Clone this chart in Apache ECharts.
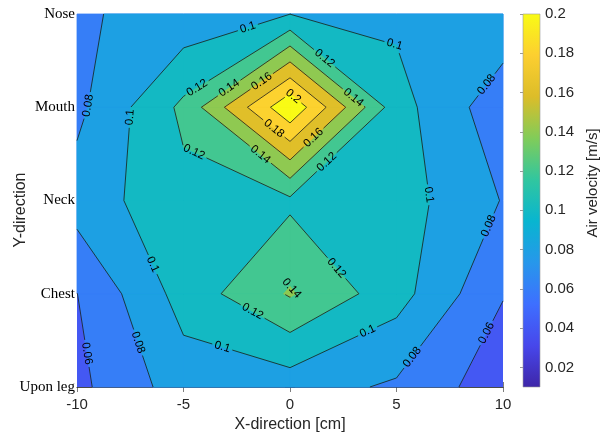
<!DOCTYPE html>
<html><head><meta charset="utf-8">
<script src="https://cdn.jsdelivr.net/npm/echarts@6/dist/echarts.min.js"></script>
<style>html,body{margin:0;padding:0;background:#fff}#c{width:612px;height:437px}</style>
</head><body><div id="c"></div>
<script>
// ---------------- data ----------------
const xValues = [-10, -5, 0, 5, 10];                       // X-direction [cm]
const yCategories = ['Upon leg', 'Chest', 'Neck', 'Mouth', 'Nose']; // y index 0..4
// air velocity [m/s] per row, columns follow xValues
const velUponLeg = [0.055, 0.090, 0.089, 0.077, 0.048];
const velChest   = [0.0598, 0.108, 0.142, 0.108, 0.061];
const velNeck    = [0.089, 0.114, 0.116, 0.1095, 0.079];
const velMouth   = [0.075, 0.1245, 0.217, 0.108, 0.067];
const velNose    = [0.078, 0.086, 0.0998, 0.096, 0.0945];
const velocityRows = [velUponLeg, velChest, velNeck, velMouth, velNose];
const contourLevels = [0.02, 0.04, 0.06, 0.08, 0.10, 0.12, 0.14, 0.16, 0.18, 0.20];
const colorbarTicks = [0.02, 0.04, 0.06, 0.08, 0.10, 0.12, 0.14, 0.16, 0.18, 0.20];
const colorMin = 0.01, colorMax = 0.2;
// contour label hints: [level, x, y] (snapped onto the computed contour)
const labelLevels = [0.08, 0.10, 0.10, 0.12, 0.14, 0.16, 0.20, 0.18, 0.16, 0.14, 0.12, 0.14, 0.12, 0.12,
                     0.10, 0.08, 0.10, 0.08, 0.06, 0.08, 0.10, 0.10, 0.12, 0.12, 0.14, 0.10, 0.08, 0.06];
const labelHintX = [-9.53, -7.42, -1.97, -4.37, -2.9, -1.4, 0.09, -0.8, 1.08, 2.96, 1.64, -1.4, -4.46, 1.74,
                    4.93, 9.25, 6.48, 9.39, 9.39, 5.63, 3.62, -3.15, 2.21, -1.78, 0.09, -6.48, -7.09, -9.53];
const labelHintY = [3.02, 2.89, 3.85, 3.21, 3.22, 3.3, 3.1, 2.76, 2.68, 3.1, 3.53, 2.49, 2.54, 2.41,
                    3.69, 3.24, 2.06, 1.72, 0.56, 0.34, 0.61, 0.45, 1.28, 0.8, 1.06, 1.31, 0.48, 0.36];
// parula colormap anchors
const parulaAnchors = [
  [0.2422, 0.1504, 0.6603], [0.2803, 0.2782, 0.9221], [0.2440, 0.4358, 0.9988],
  [0.1540, 0.5902, 0.9218], [0.0297, 0.7082, 0.8163], [0.1938, 0.7758, 0.6251],
  [0.5044, 0.7993, 0.3480], [0.8634, 0.7406, 0.1596], [0.9892, 0.8136, 0.1885],
  [0.9769, 0.9839, 0.0805]
];

// ---------------- helpers ----------------
const FONT = 'Liberation Sans, Arial, Helvetica, sans-serif';
function rgbStr(c) { return 'rgb(' + c.map(v => Math.round(v * 255)).join(',') + ')'; }
function parula(t) {
  t = Math.max(0, Math.min(1, t));
  const n = parulaAnchors.length - 1;
  const f = t * n; const i = Math.min(Math.floor(f), n - 1); const u = f - i;
  const a = parulaAnchors[i], b = parulaAnchors[i + 1];
  return rgbStr([0, 1, 2].map(k => a[k] * (1 - u) + b[k] * u));
}
function levelColor(L) { return parula((L - colorMin) / (colorMax - colorMin)); }

const nx = xValues.length, ny = velocityRows.length;
let globalMin = Infinity;
velocityRows.forEach(r => r.forEach(v => { globalMin = Math.min(globalMin, v); }));
let baseLevel = colorMin;
contourLevels.forEach(L => { if (L <= globalMin) baseLevel = L; });

function cross(a, b, L) {
  let p = a, q = b;
  if (a.x > b.x || (a.x === b.x && a.y > b.y)) { p = b; q = a; }
  const t = (L - p.v) / (q.v - p.v);
  return [p.x + t * (q.x - p.x), p.y + t * (q.y - p.y)];
}
const fillPolys = {}; const lineSegs = {};
contourLevels.forEach(L => {
  fillPolys[L] = []; lineSegs[L] = [];
  for (let j = 0; j < ny - 1; j++) {
    for (let i = 0; i < nx - 1; i++) {
      const c = [
        { x: xValues[i], y: j, v: velocityRows[j][i] },
        { x: xValues[i + 1], y: j, v: velocityRows[j][i + 1] },
        { x: xValues[i + 1], y: j + 1, v: velocityRows[j + 1][i + 1] },
        { x: xValues[i], y: j + 1, v: velocityRows[j + 1][i] }
      ];
      const poly = []; const crs = [];
      for (let k = 0; k < 4; k++) {
        const a = c[k], b = c[(k + 1) % 4];
        if (a.v >= L) poly.push([a.x, a.y]);
        if ((a.v >= L) !== (b.v >= L)) { const p = cross(a, b, L); poly.push(p); crs.push(p); }
      }
      if (poly.length >= 3) fillPolys[L].push(poly);
      if (crs.length === 2) lineSegs[L].push([crs[0], crs[1]]);
      else if (crs.length === 4) { lineSegs[L].push([crs[0], crs[1]]); lineSegs[L].push([crs[2], crs[3]]); }
    }
  }
});
function keyOf(p) { return p[0].toFixed(6) + ',' + p[1].toFixed(6); }
function chain(segs) {
  const adj = new Map();
  segs.forEach((s, idx) => s.forEach(p => { const k = keyOf(p); if (!adj.has(k)) adj.set(k, []); adj.get(k).push(idx); }));
  const used = new Array(segs.length).fill(false); const lines = [];
  for (let s = 0; s < segs.length; s++) {
    if (used[s]) continue; used[s] = true;
    const line = [segs[s][0], segs[s][1]];
    for (let dir = 0; dir < 2; dir++) {
      while (true) {
        const end = dir === 0 ? line[line.length - 1] : line[0];
        const cand = (adj.get(keyOf(end)) || []).filter(ix => !used[ix]);
        if (!cand.length) break;
        const ix = cand[0]; used[ix] = true;
        const other = keyOf(segs[ix][0]) === keyOf(end) ? segs[ix][1] : segs[ix][0];
        if (dir === 0) line.push(other); else line.unshift(other);
      }
    }
    const closed = keyOf(line[0]) === keyOf(line[line.length - 1]);
    lines.push({ pts: line, closed: closed, level: null });
  }
  return lines;
}
const contourLines = [];
contourLevels.forEach(L => chain(lineSegs[L]).forEach(l => { l.level = L; contourLines.push(l); }));

function fmtLevel(L) { return String(+L.toFixed(2)); }
function textWidth(s, fs) { let w = 0; for (const ch of s) w += (ch === '.' ? 0.278 : 0.556) * fs; return w; }

function subLine(pts, cum, a, b) {
  const out = [];
  for (let i = 0; i < pts.length - 1; i++) {
    const s0 = cum[i], s1 = cum[i + 1];
    if (s1 < a || s0 > b) continue;
    const lerp = s => { const t = (s1 - s0) > 0 ? (s - s0) / (s1 - s0) : 0; return [pts[i][0] + t * (pts[i + 1][0] - pts[i][0]), pts[i][1] + t * (pts[i + 1][1] - pts[i][1])]; };
    if (!out.length) out.push(lerp(Math.max(a, s0)));
    out.push(lerp(Math.min(b, s1)));
  }
  return out;
}

const LABEL_FS = 11.5;
function renderContour(params, api) {
  const children = [];
  const P = d => api.coord(d);
  const bl = P([xValues[0], 0]), tr = P([xValues[nx - 1], ny - 1]);
  children.push({ type: 'rect', shape: { x: bl[0], y: tr[1], width: tr[0] - bl[0], height: bl[1] - tr[1] },
    style: { fill: levelColor(baseLevel) } });
  contourLevels.forEach(L => {
    if (L <= baseLevel) return;
    const col = levelColor(L);
    fillPolys[L].forEach(poly => children.push({ type: 'polygon', shape: { points: poly.map(P) },
      style: { fill: col, stroke: col, lineWidth: 0.8 } }));
  });
  const pxLines = contourLines.map(l => {
    const pts = l.pts.map(P); const cum = [0];
    for (let i = 1; i < pts.length; i++) cum.push(cum[i - 1] + Math.hypot(pts[i][0] - pts[i - 1][0], pts[i][1] - pts[i - 1][1]));
    return { pts, cum, closed: l.closed, level: l.level, gaps: [] };
  });
  const texts = [];
  labelLevels.forEach((L, n) => {
    const h = P([labelHintX[n], labelHintY[n]]);
    let best = null;
    pxLines.forEach(pl => {
      if (Math.abs(pl.level - L) > 1e-9) return;
      for (let i = 0; i < pl.pts.length - 1; i++) {
        const a = pl.pts[i], b = pl.pts[i + 1];
        const dx = b[0] - a[0], dy = b[1] - a[1]; const len2 = dx * dx + dy * dy;
        let t = len2 > 0 ? ((h[0] - a[0]) * dx + (h[1] - a[1]) * dy) / len2 : 0;
        t = Math.max(0, Math.min(1, t));
        const q = [a[0] + t * dx, a[1] + t * dy];
        const d = Math.hypot(q[0] - h[0], q[1] - h[1]);
        if (!best || d < best.d) best = { d, pl, q, s: pl.cum[i] + t * Math.sqrt(len2), dx, dy };
      }
    });
    if (!best) return;
    const txt = fmtLevel(L);
    const half = textWidth(txt, LABEL_FS) / 2 + 2.5;
    const total = best.pl.cum[best.pl.cum.length - 1];
    best.pl.gaps.push([best.s - half, best.s + half]);
    if (best.pl.closed) {
      if (best.s - half < 0) best.pl.gaps.push([best.s - half + total, total + 1]);
      if (best.s + half > total) best.pl.gaps.push([-1, best.s + half - total]);
    }
    let ang = Math.atan2(best.dy, best.dx);
    if (ang > Math.PI / 2) ang -= Math.PI;
    if (ang < -Math.PI / 2) ang += Math.PI;
    texts.push({ type: 'text', x: best.q[0], y: best.q[1], rotation: -ang,
      style: { text: txt, fill: '#000', font: LABEL_FS + 'px ' + FONT, align: 'center', verticalAlign: 'middle' } });
  });
  pxLines.forEach(pl => {
    const total = pl.cum[pl.cum.length - 1];
    const gaps = pl.gaps.slice().sort((a, b) => a[0] - b[0]);
    let start = 0; const pieces = [];
    gaps.forEach(g => { if (g[0] > start) pieces.push([start, g[0]]); start = Math.max(start, g[1]); });
    if (start < total) pieces.push([start, total]);
    pieces.forEach(pc => {
      const pts = subLine(pl.pts, pl.cum, pc[0], pc[1]);
      if (pts.length >= 2) children.push({ type: 'polyline', shape: { points: pts },
        style: { stroke: '#1a1a1a', lineWidth: 0.8, fill: null } });
    });
  });
  texts.forEach(t => children.push(t));
  return { type: 'group', children };
}

function renderColorbar(params, api) {
  const p0 = api.coord([0, colorMin]), p1 = api.coord([1, colorMax]);
  const stops = parulaAnchors.map((c, k) => ({ offset: k / (parulaAnchors.length - 1), color: rgbStr(c) }));
  return { type: 'rect', shape: { x: p0[0], y: p1[1], width: p1[0] - p0[0], height: p0[1] - p1[1] },
    style: { fill: new echarts.graphic.LinearGradient(0, 1, 0, 0, stops), stroke: '#9a9a9a', lineWidth: 0.6 } };
}

const axisCol = '#262626';
const chart = echarts.init(document.getElementById('c'), null, { renderer: 'canvas' });
chart.setOption({
  animation: false,
  grid: [
    { left: 77, right: 109, top: 14, bottom: 50 },
    { left: 523, width: 17, top: 14, bottom: 50 }
  ],
  xAxis: [
    { gridIndex: 0, type: 'value', min: -10, max: 10, interval: 5, position: 'bottom',
      axisLine: { show: true, lineStyle: { color: axisCol, width: 0.6 } },
      axisTick: { inside: true, length: 5, lineStyle: { color: axisCol, width: 0.6 } },
      axisLabel: { fontSize: 15, color: axisCol, fontFamily: FONT, margin: 10 },
      splitLine: { show: false } },
    { gridIndex: 0, type: 'value', min: -10, max: 10, interval: 5, position: 'top',
      axisLine: { show: true, lineStyle: { color: axisCol, width: 0.6 } },
      axisTick: { inside: true, length: 5, lineStyle: { color: axisCol, width: 0.6 } },
      axisLabel: { show: false }, splitLine: { show: false } },
    { gridIndex: 1, type: 'value', min: 0, max: 1, show: false }
  ],
  yAxis: [
    { gridIndex: 0, type: 'value', min: 0, max: 4, interval: 1, position: 'left',
      axisLine: { show: true, lineStyle: { color: axisCol, width: 0.6 } },
      axisTick: { inside: true, length: 5, lineStyle: { color: axisCol, width: 0.6 } },
      axisLabel: { fontSize: 15, color: '#000', fontFamily: 'Liberation Serif, Times New Roman, serif', margin: 2,
        formatter: v => yCategories[Math.round(v)] },
      splitLine: { show: false } },
    { gridIndex: 0, type: 'value', min: 0, max: 4, interval: 1, position: 'right',
      axisLine: { show: true, lineStyle: { color: axisCol, width: 0.6 } },
      axisTick: { inside: true, length: 5, lineStyle: { color: axisCol, width: 0.6 } },
      axisLabel: { show: false }, splitLine: { show: false } },
    { gridIndex: 1, type: 'value', min: colorMin, max: colorMax, position: 'right',
      axisLine: { show: false },
      axisTick: { show: true, inside: true, length: 3, customValues: colorbarTicks, lineStyle: { color: '#555', width: 0.6 } },
      axisLabel: { show: true, customValues: colorbarTicks, fontSize: 15, color: axisCol, fontFamily: FONT, margin: 5,
        formatter: v => String(+(+v).toFixed(2)) },
      splitLine: { show: false } }
  ],
  graphic: [
    { type: 'text', x: 290, y: 425, style: { text: 'X-direction [cm]', font: '16px ' + FONT, fill: axisCol, align: 'center', verticalAlign: 'middle' } },
    { type: 'text', x: 21, y: 210, rotation: Math.PI / 2, style: { text: 'Y-direction', font: '16px ' + FONT, fill: axisCol, align: 'center', verticalAlign: 'middle' } },
    { type: 'text', x: 593, y: 183, rotation: Math.PI / 2, style: { text: 'Air velocity [m/s]', font: '15px ' + FONT, fill: axisCol, align: 'center', verticalAlign: 'middle' } }
  ],
  series: [
    { type: 'custom', coordinateSystem: 'cartesian2d', xAxisIndex: 0, yAxisIndex: 0, silent: true,
      data: [[0, 0]], renderItem: renderContour },
    { type: 'custom', coordinateSystem: 'cartesian2d', xAxisIndex: 2, yAxisIndex: 2, silent: true,
      data: [[0, colorMin]], renderItem: renderColorbar }
  ]
});
</script>
</body></html>
